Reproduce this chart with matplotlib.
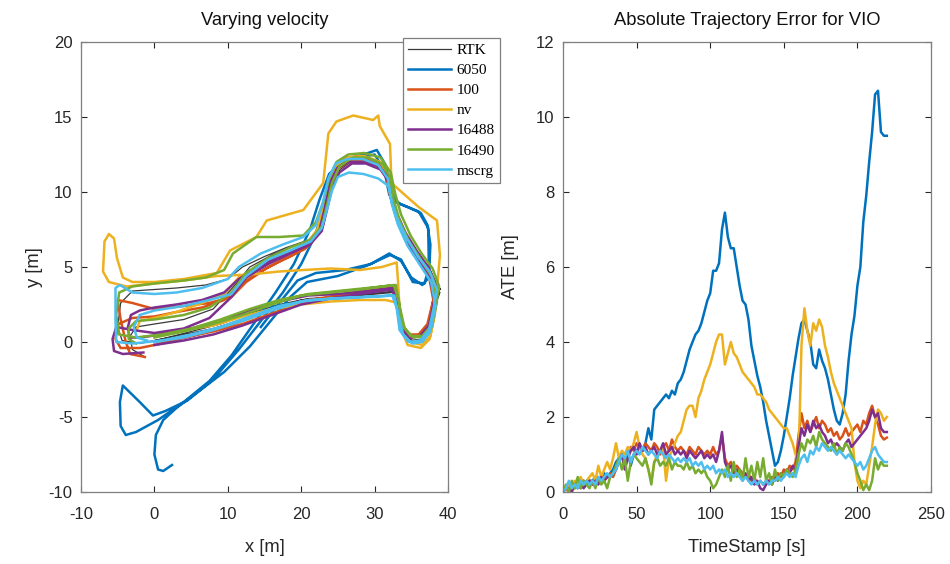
import numpy as np
import matplotlib
matplotlib.use("Agg")
import matplotlib.pyplot as plt
from matplotlib.lines import Line2D

plt.rcParams["font.family"] = "Liberation Sans"
plt.rcParams["axes.unicode_minus"] = False

# ---------------- trajectories (x [m], y [m]) ----------------
rtk_xy = [
    (0.0, 0.1), (4, 0.5), (8, 0.9), (12, 1.5), (16, 2.2), (20, 2.8), (24, 3.0), (28, 3.1), (32.5, 3.3),
    (33.2, 2.5), (33.6, 1.0), (34.8, 0.1), (36.4, 0.2), (37.6, 0.9), (38.3, 2.5), (38.7, 3.6),
    (37.6, 4.8), (36.0, 5.8), (34.5, 7.0), (33.2, 8.3), (32.4, 9.5), (31.9, 11.0), (30.6, 11.9),
    (28.5, 12.2), (26.5, 12.2), (25.0, 11.8), (24.0, 10.8), (23.4, 9.2), (22.6, 7.6), (21.0, 6.8),
    (18.0, 6.3), (15.0, 5.7), (12.0, 5.0), (10.0, 4.2), (7.0, 3.8), (3.0, 3.6), (0.0, 3.5),
    (-3.0, 3.4), (-4.6, 2.6), (-5.0, 1.0), (-4.4, 0.1), (-2.0, -0.1),
    (1.0, 0.2), (5.0, 0.7), (9.0, 1.2), (13.0, 1.9), (17.0, 2.5), (21.0, 2.9), (25.0, 3.0), (29.0, 3.2),
    (32.8, 3.4), (33.3, 2.2), (34.0, 0.7), (35.2, 0.0), (36.6, 0.1), (37.7, 0.8), (38.4, 2.6),
    (38.9, 3.3), (38.5, 3.7), (39.0, 3.5), (37.8, 4.2), (36.2, 5.4), (34.6, 6.6), (33.3, 8.0),
    (32.5, 9.3), (32.0, 10.8), (31.0, 11.6),
    (29.0, 12.0), (27.0, 12.1), (25.3, 11.5), (24.3, 10.5), (23.6, 9.0), (23.0, 7.7), (21.5, 6.8),
    (19.0, 6.4), (16.0, 5.8), (13.0, 5.0), (11.0, 3.8), (8.0, 2.2), (4.0, 1.5), (0.0, 1.2), (-2.5, 1.0),
    (-3.3, 0.4), (-3.0, -0.5), (-1.3, -1.0),
]

v6050_xy = [
    (14.5, 1.0), (17.0, 2.6), (19.5, 4.1), (22.0, 4.6), (26.0, 4.8), (29.5, 5.2), (32.0, 5.9), (33.6, 5.4),
    (35.0, 4.3), (36.5, 3.8), (37.4, 4.3), (37.6, 6.5), (37.2, 7.8), (36.3, 8.6), (34.5, 9.0), (33.0, 9.3),
    (32.2, 10.3), (31.5, 11.8), (30.3, 12.8), (28.5, 12.5), (26.5, 12.2), (24.8, 11.6), (23.6, 10.2),
    (22.8, 8.5), (21.8, 7.0), (20.0, 5.2), (17.5, 3.3), (14.5, 1.4), (11.5, -0.5), (8.0, -2.5),
    (4.5, -3.9), (1.5, -4.6), (-0.2, -4.9), (-2.0, -4.0), (-4.3, -2.9), (-4.7, -4.0), (-4.6, -5.6),
    (-3.9, -6.2), (-2.5, -6.0), (0.5, -5.2), (4.0, -4.0), (7.5, -2.6), (10.5, -0.9), (13.5, 1.2),
    (16.5, 3.3), (19.0, 5.2), (21.2, 7.5), (22.5, 9.5), (23.8, 11.2), (25.5, 12.0), (28.0, 12.3),
    (30.0, 12.5), (31.3, 11.5), (32.0, 9.8), (33.5, 9.2), (36.0, 8.7), (37.3, 7.6), (37.4, 5.0),
    (36.8, 3.9), (35.2, 4.0), (33.6, 5.5), (32.1, 5.8), (29.0, 5.1), (25.0, 4.4), (20.8, 4.0),
    (18.5, 3.0), (16.0, 1.5), (13.0, -0.3), (9.5, -2.0), (6.0, -3.3), (3.0, -4.4), (1.2, -5.2),
    (0.2, -6.2), (0.0, -7.5), (0.5, -8.5), (1.2, -8.6), (2.4, -8.2),
]

v100_xy = [
    (0.0, 0.0), (4, 0.3), (8, 0.7), (12, 1.2), (16, 1.9), (20, 2.6), (24, 3.0), (28, 3.3), (32.3, 3.6),
    (33.0, 2.8), (33.4, 1.2), (34.5, 0.5), (36.0, 0.5), (37.2, 1.2), (38.0, 2.8), (38.3, 3.8),
    (37.2, 4.9), (35.6, 6.0), (34.0, 7.2), (32.8, 8.6), (32.0, 10.0), (31.6, 11.3), (30.2, 12.0),
    (28.2, 12.4), (26.3, 12.3), (24.8, 11.9), (23.8, 10.8), (23.1, 9.0), (22.2, 7.2), (20.5, 6.2),
    (17.5, 5.5), (14.5, 4.7), (11.5, 3.8), (9.5, 2.8), (6.5, 2.3), (3.0, 2.0), (0.0, 1.7),
    (-3.0, 1.6), (-4.9, 1.2), (-5.3, 0.2), (-4.6, -0.4), (-2.0, -0.4),
    (1.0, -0.1), (5.0, 0.4), (9.0, 0.9), (13.0, 1.6), (17.0, 2.3), (21.0, 2.8), (25.0, 3.1), (29.0, 3.5),
    (32.6, 3.7), (33.2, 2.4), (33.9, 1.0), (35.0, 0.4), (36.4, 0.5), (37.4, 1.2), (38.0, 2.8),
    (37.4, 4.4), (35.8, 5.6), (34.2, 6.8), (33.0, 8.2), (32.2, 9.6), (31.7, 10.9), (30.6, 11.7),
    (28.7, 12.1), (26.8, 12.1), (25.1, 11.6), (24.1, 10.5), (23.4, 8.9), (22.7, 7.5), (21.0, 6.4),
    (18.5, 5.7), (15.5, 5.0), (12.5, 4.0), (10.5, 3.0), (7.5, 2.6), (4.0, 2.4), (0.0, 2.2), (-3.0, 2.6),
    (-5.0, 2.8), (-4.6, 1.5), (-3.9, 0.0), (-3.3, -0.8), (-1.3, -1.0),
]

nv_xy = [
    (0.0, 0.4), (4, 0.8), (8, 1.1), (12, 1.7), (16, 2.2), (20, 2.5), (24, 2.7), (28, 2.8), (31.5, 2.8),
    (33.2, 2.6), (33.5, 1.0), (34.5, -0.2), (36.3, -0.4), (37.5, 0.2), (38.2, 1.8), (38.5, 3.5),
    (38.9, 5.8), (38.5, 8.1), (36.0, 9.0), (33.9, 9.9), (32.3, 10.6), (32.1, 13.2), (30.7, 14.4),
    (30.5, 15.1), (29.8, 14.8), (27.1, 15.1), (24.8, 14.7), (23.7, 13.9), (23.0, 10.6), (20.3, 8.8),
    (15.3, 8.1), (13.9, 7.0), (10.3, 6.1), (8.5, 4.6), (4.0, 4.2), (0.0, 4.0), (-3.0, 4.0),
    (-4.3, 4.3), (-5.1, 5.6), (-5.5, 6.9), (-6.2, 7.2), (-6.8, 6.7), (-7.0, 4.7), (-6.2, 4.0),
    (-3.8, 3.7), (0.0, 3.9), (4.0, 4.1), (8.5, 4.4), (13.0, 4.5), (17.0, 4.7), (20.3, 4.8), (24.0, 4.9),
    (28.0, 4.8), (31.0, 5.0), (33.0, 5.3), (33.2, 4.0), (33.4, 2.2), (33.8, 0.8), (34.8, 0.0),
    (36.5, -0.2), (37.6, 0.4), (38.2, 2.0), (38.4, 3.5), (37.2, 4.6), (35.6, 5.8), (34.2, 7.0),
    (33.2, 8.2), (32.5, 9.5), (32.0, 11.0), (30.8, 12.0), (28.6, 12.4), (26.4, 12.3), (24.8, 11.8),
    (23.8, 10.8), (23.0, 9.0), (22.2, 7.5), (20.5, 6.4), (17.5, 5.8), (14.5, 5.1), (11.5, 4.3),
    (9.5, 3.2), (6.5, 2.6), (3.0, 2.0), (0.0, 1.6), (-2.0, 1.4), (-2.4, 0.8),
]

v16488_xy = [
    (0.0, -0.2), (4, 0.1), (8, 0.5), (12, 1.1), (16, 1.8), (20, 2.5), (24, 2.9), (28, 3.2), (32.4, 3.5),
    (33.1, 2.6), (33.5, 1.0), (34.7, 0.3), (36.2, 0.4), (37.4, 1.1), (38.1, 2.7), (38.4, 3.7),
    (37.3, 5.0), (35.7, 6.1), (34.2, 7.3), (33.0, 8.6), (32.2, 9.8), (31.7, 11.1), (30.4, 11.8),
    (28.3, 12.0), (26.4, 12.0), (24.9, 11.6), (23.9, 10.6), (23.2, 8.9), (22.4, 7.3), (20.7, 6.4),
    (17.5, 5.8), (14.5, 5.1), (11.5, 4.2), (9.5, 3.3), (6.5, 2.8), (3.0, 2.5), (0.0, 2.3),
    (-2.0, 2.1), (-3.2, 1.8), (-3.6, 1.0), (-3.4, 0.3), (-2.0, 0.3),
    (1.0, 0.5), (5.0, 0.9), (9.0, 1.4), (13.0, 2.1), (17.0, 2.7), (21.0, 3.1), (25.0, 3.2), (29.0, 3.4),
    (32.5, 3.6), (33.1, 2.3), (33.8, 0.9), (35.0, 0.3), (36.5, 0.4), (37.5, 1.0), (38.2, 2.7),
    (37.5, 4.3), (35.9, 5.5), (34.3, 6.8), (33.1, 8.1), (32.3, 9.4), (31.8, 10.8), (30.8, 11.5),
    (28.8, 11.9), (26.9, 11.9), (25.2, 11.3), (24.2, 10.3), (23.5, 8.8), (22.8, 7.4), (21.2, 6.5),
    (18.5, 5.9), (15.5, 5.2), (12.5, 4.3), (10.5, 3.0), (7.5, 1.6), (4.0, 0.9), (0.0, 0.6), (-3.0, 0.8),
    (-5.2, 1.0), (-5.7, 0.2), (-5.5, -0.6), (-4.3, -0.8), (-1.5, -0.7),
]

v16490_xy = [
    (0.0, 0.3), (4, 0.7), (8, 1.2), (12, 1.8), (16, 2.5), (20, 3.1), (24, 3.3), (28, 3.5), (32.6, 3.8),
    (33.3, 2.8), (33.7, 1.2), (34.9, 0.4), (36.5, 0.4), (37.7, 1.1), (38.4, 2.6), (38.8, 3.7),
    (37.9, 4.9), (36.4, 5.9), (34.9, 7.1), (33.6, 8.5), (32.8, 9.9), (32.2, 11.3), (30.8, 12.3),
    (28.6, 12.6), (26.4, 12.5), (24.8, 12.0), (23.8, 10.9), (23.0, 9.3), (22.0, 8.0), (20.3, 7.1),
    (17.0, 7.0), (13.9, 7.0), (10.7, 5.9), (9.5, 4.8), (7.0, 4.3), (4.0, 4.1), (0.0, 3.9),
    (-3.0, 3.7), (-4.8, 3.3), (-5.2, 1.8), (-4.8, 0.5), (-2.5, 0.3),
    (1.0, 0.5), (5.0, 0.9), (9.0, 1.5), (13.0, 2.2), (17.0, 2.8), (21.0, 3.2), (25.0, 3.4), (29.0, 3.6),
    (32.9, 3.8), (33.4, 2.4), (34.1, 0.9), (35.3, 0.3), (36.7, 0.4), (37.8, 1.0), (38.5, 2.7),
    (37.9, 4.3), (36.3, 5.5), (34.7, 6.7), (33.4, 8.1), (32.6, 9.5), (32.1, 11.0), (31.0, 11.9),
    (29.0, 12.3), (27.0, 12.3), (25.2, 11.7), (24.2, 10.6), (23.5, 9.1), (22.8, 7.7), (21.2, 6.8),
    (18.5, 6.3), (15.5, 5.6), (12.5, 4.6), (10.5, 3.3), (7.5, 2.3), (4.0, 1.8), (0.0, 1.5), (-2.5, 1.4),
    (-3.5, 0.9), (-3.5, 0.2), (-2.5, -0.1),
]

mscrg_xy = [
    (0.0, 0.0), (4, 0.3), (8, 0.8), (12, 1.4), (16, 2.1), (20, 2.7), (24, 2.9), (28, 3.0), (32.4, 3.1),
    (33.0, 2.3), (33.4, 0.8), (34.6, 0.0), (36.2, 0.1), (37.4, 0.8), (38.1, 2.4), (38.5, 3.5),
    (37.5, 4.7), (35.9, 5.7), (34.4, 6.9), (33.1, 8.2), (32.3, 9.4), (31.8, 10.9), (30.5, 11.8),
    (28.4, 12.2), (26.3, 12.2), (24.7, 11.9), (23.7, 10.9), (23.0, 9.4), (22.0, 7.8), (20.3, 7.0),
    (17.5, 6.5), (14.5, 5.9), (11.5, 5.0), (10.0, 4.2), (6.5, 3.6), (3.0, 3.3), (0.0, 3.2),
    (-3.0, 3.3), (-4.7, 3.8), (-5.3, 3.6), (-5.3, 1.5), (-5.2, 0.0), (-3.0, -0.1),
    (1.0, 0.1), (5.0, 0.5), (9.0, 1.0), (13.0, 1.7), (17.0, 2.4), (21.0, 2.8), (25.0, 2.9), (29.0, 3.0),
    (32.7, 3.1), (33.2, 1.9), (33.9, 0.5), (35.1, -0.1), (36.5, 0.0), (37.6, 0.7), (38.3, 2.4),
    (37.7, 4.0), (36.1, 5.2), (34.5, 6.4), (33.2, 7.8), (32.4, 9.1), (31.9, 10.4), (30.5, 10.9),
    (28.5, 11.2), (26.5, 11.3), (25.0, 11.0), (24.2, 10.1), (23.5, 8.8), (22.8, 7.6), (21.3, 6.7),
    (18.5, 6.1), (15.5, 5.5), (12.5, 4.4), (10.5, 3.2), (7.5, 2.8), (4.0, 2.4), (0.0, 2.1), (-2.0, 1.8),
    (-2.8, 1.0), (-2.4, 0.3), (-1.0, 0.1),
]

# ---------------- ATE [m] sampled every 2 s ----------------
time_s = list(range(0, 221, 2))

ate_6050 = [
    0.0, 0.1, 0.2, 0.1, 0.2, 0.3, 0.2, 0.3, 0.2, 0.3,
    0.3, 0.4, 0.3, 0.4, 0.5, 0.4, 0.5, 0.6, 0.8, 0.9,
    1.0, 0.8, 1.1, 0.7, 1.0, 1.1, 1.2, 1.1, 1.3, 1.7,
    1.4, 2.2, 2.3, 2.4, 2.5, 2.6, 2.5, 2.7, 2.6, 2.9,
    3.0, 3.2, 3.5, 3.8, 4.0, 4.2, 4.3, 4.5, 4.8, 5.1,
    5.3, 5.9, 5.9, 6.1, 7.0, 7.45, 6.8, 6.5, 6.5, 6.0,
    5.5, 5.1, 5.0, 4.6, 3.9, 3.5, 3.1, 2.8, 2.4, 1.9,
    1.5, 1.1, 0.7, 0.8, 1.1, 1.5, 2.0, 2.5, 3.1, 3.6,
    4.1, 4.5, 4.6, 4.3, 4.0, 3.4, 3.3, 3.8, 3.5, 3.3,
    3.0, 2.6, 2.2, 1.9, 1.8, 2.1, 2.6, 3.5, 4.2, 4.7,
    5.5, 6.0, 7.2, 7.9, 8.8, 9.6, 10.6, 10.7, 9.6, 9.5, 9.5,
]
ate_100 = [
    0.0, 0.1, 0.0, 0.2, 0.1, 0.2, 0.1, 0.3, 0.2, 0.3,
    0.2, 0.3, 0.3, 0.4, 0.3, 0.4, 0.5, 0.4, 0.6, 0.9,
    1.0, 0.7, 0.9, 1.2, 1.1, 1.3, 1.2, 1.1, 1.3, 1.2,
    1.1, 1.3, 1.2, 1.0, 1.2, 1.3, 1.1, 1.4, 1.2, 1.1,
    1.2, 1.1, 1.0, 1.2, 1.1, 1.0, 1.2, 1.1, 1.0, 1.1,
    1.0, 1.2, 1.0, 1.1, 1.5, 0.9, 0.7, 0.8, 0.6, 0.7,
    0.6, 0.5, 0.4, 0.5, 0.3, 0.4, 0.2, 0.3, 0.2, 0.3,
    0.3, 0.4, 0.3, 0.5, 0.4, 0.6, 0.5, 0.7, 0.6, 0.8,
    1.5, 2.1, 1.7, 1.9, 1.6, 1.8, 2.0, 1.7, 1.9, 1.8,
    1.6, 1.7, 1.5, 1.6, 1.4, 1.5, 1.7, 1.5, 1.6, 1.7,
    1.8, 1.6, 1.9, 1.8, 2.1, 2.3, 2.0, 1.8, 1.5, 1.4, 1.45,
]
ate_nv = [
    0.0, 0.1, 0.2, 0.1, 0.3, 0.2, 0.4, 0.2, 0.3, 0.4,
    0.5, 0.3, 0.7, 0.4, 0.6, 0.8, 0.6, 0.9, 1.3, 0.9,
    1.1, 1.0, 1.2, 1.1, 1.3, 1.6, 1.2, 1.0, 0.9, 0.6,
    0.3, 0.8, 1.0, 1.1, 1.2, 0.3, 0.9, 1.1, 1.3, 1.5,
    1.6, 1.9, 2.2, 2.3, 2.3, 2.0, 2.5, 2.7, 3.0, 3.2,
    3.4, 3.7, 4.0, 4.2, 4.2, 3.4, 3.7, 4.0, 3.7, 3.6,
    3.4, 3.2, 3.1, 3.0, 2.9, 2.8, 2.6, 2.6, 2.5, 2.4,
    2.2, 2.1, 2.0, 1.9, 1.8, 1.7, 1.7, 1.5, 1.3, 1.0,
    0.8, 3.9, 4.9, 4.3, 3.9, 4.5, 4.3, 4.6, 4.4, 3.9,
    3.6, 3.2, 2.9, 2.7, 2.5, 2.3, 2.1, 1.9, 1.7, 0.8,
    0.3, 0.1, 0.3, 0.2, 0.7, 1.2, 1.8, 2.2, 2.1, 1.9, 2.0,
]
ate_16488 = [
    0.0, 0.1, 0.1, 0.0, 0.2, 0.1, 0.2, 0.1, 0.2, 0.3,
    0.2, 0.3, 0.2, 0.4, 0.3, 0.4, 0.4, 0.5, 0.6, 0.8,
    1.0, 0.6, 0.9, 1.1, 1.2, 1.0, 1.3, 1.1, 1.2, 1.0,
    1.1, 1.2, 1.0, 1.1, 1.3, 1.0, 1.1, 1.2, 1.0, 1.1,
    1.0, 1.1, 0.9, 1.1, 1.0, 0.9, 1.0, 1.1, 0.9, 1.0,
    0.9, 1.0, 0.8, 1.1, 1.6, 0.8, 0.6, 0.7, 0.5, 0.6,
    0.5, 0.4, 0.5, 0.3, 0.4, 0.2, 0.3, 0.1, 0.05, 0.2,
    0.3, 0.2, 0.4, 0.3, 0.5, 0.4, 0.6, 0.5, 0.7, 0.6,
    1.2, 1.7, 1.5, 1.8, 1.6, 1.9, 1.7, 1.8, 1.6, 1.5,
    1.3, 1.4, 1.2, 1.3, 1.2, 1.1, 1.3, 1.4, 1.2, 1.3,
    1.4, 1.5, 1.6, 1.7, 1.9, 2.2, 2.0, 2.1, 1.7, 1.6, 1.6,
]
ate_16490 = [
    0.0, 0.2, 0.0, 0.3, 0.1, 0.4, 0.1, 0.3, 0.2, 0.1,
    0.3, 0.1, 0.4, 0.2, 0.3, 0.1, 0.4, 0.5, 0.7, 0.9,
    0.6, 0.9, 0.3, 0.8, 1.0, 0.9, 0.8, 0.7, 0.9, 0.6,
    0.2, 0.8, 0.9, 0.7, 0.8, 0.7, 0.9, 0.6, 0.8, 0.7,
    0.7, 0.6, 0.8, 0.6, 0.7, 0.5, 0.6, 0.5, 0.6, 0.4,
    0.3, 0.1, 0.2, 0.4, 0.6, 0.4, 0.7, 0.3, 0.8, 0.4,
    0.6, 0.3, 0.9, 0.4, 0.7, 0.3, 0.8, 0.4, 0.9, 0.3,
    0.5, 0.2, 0.6, 0.3, 0.5, 0.4, 0.6, 0.5, 0.4, 0.6,
    1.0, 1.3, 1.1, 1.4, 1.3, 1.5, 1.2, 1.6, 1.4, 1.3,
    1.2, 1.1, 1.3, 1.0, 1.2, 1.1, 1.3, 1.2, 1.0, 0.8,
    0.5, 0.3, 0.05, 0.2, 0.05, 0.3, 0.9, 0.6, 0.8, 0.7, 0.7,
]
ate_mscrg = [
    0.0, 0.1, 0.3, 0.1, 0.2, 0.1, 0.3, 0.2, 0.3, 0.2,
    0.3, 0.2, 0.4, 0.3, 0.4, 0.5, 0.4, 0.5, 0.6, 0.8,
    1.0, 0.9, 1.1, 0.8, 1.0, 1.1, 1.0, 1.2, 1.1, 1.0,
    1.1, 1.0, 0.9, 1.1, 1.0, 0.9, 1.0, 0.9, 0.8, 0.9,
    0.8, 0.9, 0.8, 0.9, 0.7, 0.8, 0.7, 0.8, 0.6, 0.7,
    0.6, 0.7, 0.5, 0.6, 0.5, 0.6, 0.4, 0.5, 0.4, 0.5,
    0.4, 0.3, 0.4, 0.3, 0.2, 0.3, 0.2, 0.3, 0.2, 0.3,
    0.2, 0.3, 0.3, 0.4, 0.3, 0.4, 0.5, 0.4, 0.5, 0.4,
    0.7, 0.9, 1.0, 0.8, 1.1, 1.0, 1.2, 1.1, 1.3, 1.2,
    1.1, 1.2, 1.1, 1.0, 1.1, 1.0, 0.9, 1.0, 0.9, 0.8,
    0.7, 0.8, 0.6, 0.7, 0.9, 1.1, 1.2, 1.0, 0.9, 0.8, 0.8,
]

labels = ["RTK", "6050", "100", "nv", "16488", "16490", "mscrg"]
colors = ["#3a3a3a", "#0072BD", "#D95319", "#EDB120", "#7E2F8E", "#77AC30", "#4DBEEE"]
widths = [0.9, 1.8, 1.8, 1.8, 1.8, 1.8, 1.8]

traj = [rtk_xy, v6050_xy, v100_xy, nv_xy, v16488_xy, v16490_xy, mscrg_xy]
ates = [ate_6050, ate_100, ate_nv, ate_16488, ate_16490, ate_mscrg]

axis_col = "#262626"

fig = plt.figure(figsize=(9.5, 5.64), dpi=100)
ax1 = fig.add_axes([81 / 950, 72 / 564, 367 / 950, 450 / 564])
ax2 = fig.add_axes([563 / 950, 72 / 564, 368 / 950, 450 / 564])

for pts, c, lw in zip(traj, colors, widths):
    a = np.array(pts)
    ax1.plot(a[:, 0], a[:, 1], color=c, lw=lw, solid_joinstyle="round")

for vals, c in zip(ates, colors[1:]):
    ax2.plot(time_s, vals, color=c, lw=1.8, solid_joinstyle="round")

ax1.set_xlim(-10, 40)
ax1.set_ylim(-10, 20)
ax1.set_xticks(range(-10, 41, 10))
ax1.set_yticks(range(-10, 21, 5))
ax2.set_xlim(0, 250)
ax2.set_ylim(0, 12)
ax2.set_xticks(range(0, 251, 50))
ax2.set_yticks(range(0, 13, 2))

for ax in (ax1, ax2):
    ax.tick_params(direction="in", top=True, right=True, length=4, width=0.8,
                   labelsize=12, colors=axis_col, pad=6)
    ax.tick_params(axis="x", pad=11)
    for s in ax.spines.values():
        s.set_color("#7f7f7f")
        s.set_linewidth(0.9)

ax1.set_title("Varying velocity", fontsize=13.2, color="#111111", pad=12.5)
ax2.set_title("Absolute Trajectory Error for VIO", fontsize=13.2, color="#111111", pad=12.5)
ax1.set_xlabel("x [m]", fontsize=13.2, color=axis_col, labelpad=12)
ax1.set_ylabel("y [m]", fontsize=13.2, color=axis_col, labelpad=4)
ax2.set_xlabel("TimeStamp [s]", fontsize=13.2, color=axis_col, labelpad=12)
ax2.set_ylabel("ATE [m]", fontsize=13.2, color=axis_col, labelpad=12)

handles = [Line2D([], [], color=c, lw=lw) for c, lw in zip(colors, widths)]
leg = fig.legend(handles, labels, loc="upper left",
                 bbox_to_anchor=(403 / 950, 1 - 38 / 564), bbox_transform=fig.transFigure,
                 prop={"family": "Liberation Serif", "size": 11},
                 fancybox=False, framealpha=1, edgecolor="#7f7f7f",
                 handlelength=2.8, handletextpad=0.35, labelspacing=0.42,
                 borderpad=0.35, borderaxespad=0)
leg.get_frame().set_linewidth(0.9)

fig.savefig("out.png", dpi=100)
